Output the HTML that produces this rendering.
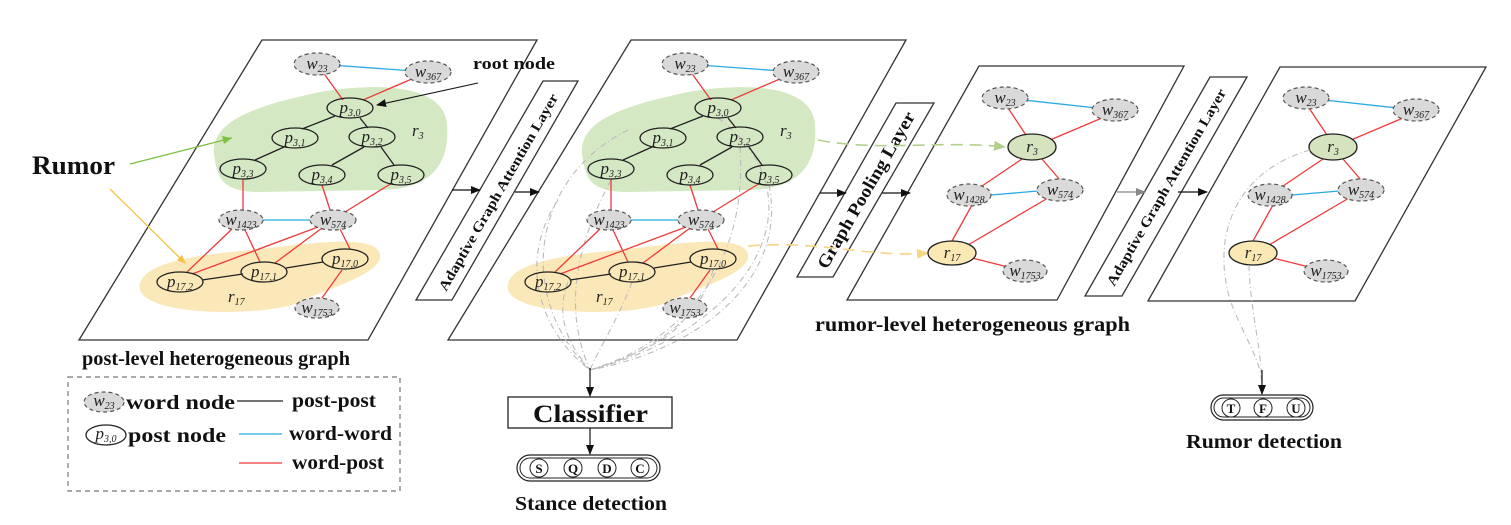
<!DOCTYPE html>
<html><head><meta charset="utf-8"><style>
html,body{margin:0;padding:0;background:#fff}
svg{display:block}
.t{font-family:"Liberation Serif",serif;font-style:italic;font-size:17px;fill:#222}
.s{font-size:10px}
.b{font-family:"Liberation Serif",serif;font-weight:bold;fill:#111}
.w{fill:#d9d9d9;stroke:#555;stroke-width:1.2;stroke-dasharray:4 3}
.p{fill:none;stroke:#222;stroke-width:1.3}
.r{stroke:#f03a3a;stroke-width:1.3}
.c{stroke:#2aaae2;stroke-width:1.3}
.k{stroke:#222;stroke-width:1.3}
.pl{fill:#fff;stroke:#333;stroke-width:1.3}
.g{fill:none;stroke:#bbb;stroke-width:1.1;stroke-dasharray:6 3 1 3}
</style></head><body>
<svg width="1511" height="525" viewBox="0 0 1511 525" xmlns="http://www.w3.org/2000/svg">
<defs>
<marker id="ah" markerWidth="10" markerHeight="8" refX="9" refY="4" orient="auto" markerUnits="userSpaceOnUse"><path d="M0,0 L10,4 L0,8 Z" fill="#111"/></marker>
<marker id="ag" markerWidth="12" markerHeight="10" refX="11" refY="5" orient="auto" markerUnits="userSpaceOnUse"><path d="M0,0 L12,5 L0,10 Z" fill="#b5d08c"/></marker>
<marker id="ay" markerWidth="12" markerHeight="10" refX="11" refY="5" orient="auto" markerUnits="userSpaceOnUse"><path d="M0,0 L12,5 L0,10 Z" fill="#f6d585"/></marker>
<marker id="agr" markerWidth="10" markerHeight="8" refX="9" refY="4" orient="auto" markerUnits="userSpaceOnUse"><path d="M0,0 L10,4 L0,8 Z" fill="#888"/></marker>
</defs>

<polygon class="pl" points="262,40 537,40 368,340 79,340"/>
<polygon class="pl" points="631,40 906,40 737,340 448,340"/>
<polygon class="pl" points="979,66 1184,66 1057,300 847,300"/>
<polygon class="pl" points="1280,67 1486,67 1355,301 1148,301"/>

<polygon class="pl" points="543,81 578,81 452,300 416,300"/>
<text class="b" font-size="14" transform="translate(498,192) rotate(-60)" text-anchor="middle" dy="5" textLength="225" lengthAdjust="spacingAndGlyphs">Adaptive Graph Attention Layer</text>
<polygon class="pl" points="896,103 934,103 833,277 797,277"/>
<text class="b" font-size="18" transform="translate(866,190) rotate(-60)" text-anchor="middle" dy="6" textLength="178" lengthAdjust="spacingAndGlyphs">Graph Pooling Layer</text>
<polygon class="pl" points="1210,77 1247,77 1122,296 1085,296"/>
<text class="b" font-size="14" transform="translate(1166,187) rotate(-60)" text-anchor="middle" dy="5" textLength="225" lengthAdjust="spacingAndGlyphs">Adaptive Graph Attention Layer</text>

<line x1="452" y1="190" x2="480" y2="190" stroke="#111" stroke-width="1.3" marker-end="url(#ah)"/>
<line x1="515" y1="192" x2="539" y2="192" stroke="#111" stroke-width="1.3" marker-end="url(#ah)"/>
<line x1="820" y1="193" x2="846" y2="193" stroke="#111" stroke-width="1.3" marker-end="url(#ah)"/>
<line x1="882" y1="193" x2="910" y2="193" stroke="#111" stroke-width="1.3" marker-end="url(#ah)"/>
<line x1="1117" y1="192" x2="1145" y2="192" stroke="#888" stroke-width="1.3" marker-end="url(#agr)"/>
<line x1="1178" y1="192" x2="1207" y2="192" stroke="#111" stroke-width="1.3" marker-end="url(#ah)"/>

<g>
<path d="M215,160 C205,120 260,105 320,92 C380,82 445,85 447,125 C450,165 430,190 380,190 L260,192 C225,192 218,180 215,160 Z" fill="#d5e8c4"/>
<path d="M140,290 C135,262 200,255 250,250 C300,245 378,232 380,255 C382,275 322,290 300,302 C270,316 150,318 140,290 Z" fill="#fbe8b8"/>
<line class="c" x1="317" y1="64" x2="428" y2="72"/>
<line class="r" x1="317" y1="64" x2="343" y2="100"/>
<line class="r" x1="428" y1="72" x2="363" y2="100"/>
<line class="k" x1="335" y1="116" x2="302" y2="129"/>
<line class="k" x1="360" y1="118" x2="368" y2="128"/>
<line class="k" x1="284" y1="147" x2="255" y2="160"/>
<line class="k" x1="364" y1="147" x2="332" y2="165"/>
<line class="k" x1="381" y1="147" x2="394" y2="165"/>
<line class="r" x1="243" y1="179" x2="243" y2="210"/>
<line class="r" x1="322" y1="185" x2="330" y2="210"/>
<line class="r" x1="392" y1="183" x2="345" y2="212"/>
<line class="c" x1="262" y1="220" x2="311" y2="220"/>
<line class="r" x1="232" y1="229" x2="187" y2="272"/>
<line class="r" x1="245" y1="230" x2="260" y2="262"/>
<line class="r" x1="318" y1="227" x2="192" y2="274"/>
<line class="r" x1="322" y1="228" x2="275" y2="263"/>
<line class="r" x1="340" y1="229" x2="350" y2="249"/>
<line class="k" x1="202" y1="280" x2="243" y2="274"/>
<line class="k" x1="286" y1="268" x2="323" y2="262"/>
<line class="r" x1="342" y1="270" x2="322" y2="298"/>
<ellipse class="w" cx="317" cy="64" rx="23" ry="11"/><text class="t" x="317" y="69" text-anchor="middle">w<tspan class="s" dy="3">23</tspan></text>
<ellipse class="w" cx="428" cy="72" rx="23" ry="11"/><text class="t" x="428" y="77" text-anchor="middle">w<tspan class="s" dy="3">367</tspan></text>
<ellipse class="p" cx="350" cy="108" rx="23" ry="10"/><text class="t" x="350" y="113" text-anchor="middle">p<tspan class="s" dy="3">3,0</tspan></text>
<ellipse class="p" cx="295" cy="138" rx="23" ry="10"/><text class="t" x="295" y="143" text-anchor="middle">p<tspan class="s" dy="3">3,1</tspan></text>
<ellipse class="p" cx="372" cy="137" rx="23" ry="10"/><text class="t" x="372" y="142" text-anchor="middle">p<tspan class="s" dy="3">3,2</tspan></text>
<ellipse class="p" cx="243" cy="169" rx="23" ry="10"/><text class="t" x="243" y="174" text-anchor="middle">p<tspan class="s" dy="3">3,3</tspan></text>
<ellipse class="p" cx="322" cy="175" rx="23" ry="10"/><text class="t" x="322" y="180" text-anchor="middle">p<tspan class="s" dy="3">3,4</tspan></text>
<ellipse class="p" cx="401" cy="175" rx="23" ry="10"/><text class="t" x="401" y="180" text-anchor="middle">p<tspan class="s" dy="3">3,5</tspan></text>
<ellipse class="w" cx="241" cy="220" rx="22" ry="10"/><text class="t" x="241" y="225" text-anchor="middle">w<tspan class="s" dy="3">1423</tspan></text>
<ellipse class="w" cx="333" cy="220" rx="23" ry="10"/><text class="t" x="333" y="225" text-anchor="middle">w<tspan class="s" dy="3">574</tspan></text>
<ellipse class="p" cx="345" cy="259" rx="23" ry="10"/><text class="t" x="345" y="264" text-anchor="middle">p<tspan class="s" dy="3">17,0</tspan></text>
<ellipse class="p" cx="264" cy="272" rx="23" ry="10"/><text class="t" x="264" y="277" text-anchor="middle">p<tspan class="s" dy="3">17,1</tspan></text>
<ellipse class="p" cx="180" cy="282" rx="23" ry="10"/><text class="t" x="180" y="287" text-anchor="middle">p<tspan class="s" dy="3">17,2</tspan></text>
<ellipse class="w" cx="317" cy="308" rx="22" ry="10"/><text class="t" x="317" y="313" text-anchor="middle">w<tspan class="s" dy="3">1753</tspan></text>
<text class="t" x="412" y="136">r<tspan class="s" dy="3">3</tspan></text>
<text class="t" x="228" y="302">r<tspan class="s" dy="3">17</tspan></text>
</g>

<g transform="translate(368,0)">
<path d="M215,160 C205,120 260,105 320,92 C380,82 445,85 447,125 C450,165 430,190 380,190 L260,192 C225,192 218,180 215,160 Z" fill="#d5e8c4"/>
<path d="M140,290 C135,262 200,255 250,250 C300,245 378,232 380,255 C382,275 322,290 300,302 C270,316 150,318 140,290 Z" fill="#fbe8b8"/>
<path class="g" d="M200,282 C185,320 205,350 222,370"/>
<path class="g" d="M190,200 C150,260 170,330 222,370"/>
<path class="g" d="M260,130 C160,180 150,300 222,370"/>
<path class="g" d="M264,282 C250,320 230,350 222,370"/>
<path class="g" d="M345,270 C330,330 260,360 222,370"/>
<path class="g" d="M372,147 C380,260 320,340 222,370"/>
<path class="g" d="M401,185 C420,280 330,350 222,370"/>
<path class="g" d="M350,118 C460,200 380,330 222,370"/>
<path class="g" d="M243,180 C200,260 200,320 222,370"/>
<path class="g" d="M317,318 C300,345 250,360 222,370"/>
<line class="c" x1="317" y1="64" x2="428" y2="72"/>
<line class="r" x1="317" y1="64" x2="343" y2="100"/>
<line class="r" x1="428" y1="72" x2="363" y2="100"/>
<line class="k" x1="335" y1="116" x2="302" y2="129"/>
<line class="k" x1="360" y1="118" x2="368" y2="128"/>
<line class="k" x1="284" y1="147" x2="255" y2="160"/>
<line class="k" x1="364" y1="147" x2="332" y2="165"/>
<line class="k" x1="381" y1="147" x2="394" y2="165"/>
<line class="r" x1="243" y1="179" x2="243" y2="210"/>
<line class="r" x1="322" y1="185" x2="330" y2="210"/>
<line class="r" x1="392" y1="183" x2="345" y2="212"/>
<line class="c" x1="262" y1="220" x2="311" y2="220"/>
<line class="r" x1="232" y1="229" x2="187" y2="272"/>
<line class="r" x1="245" y1="230" x2="260" y2="262"/>
<line class="r" x1="318" y1="227" x2="192" y2="274"/>
<line class="r" x1="322" y1="228" x2="275" y2="263"/>
<line class="r" x1="340" y1="229" x2="350" y2="249"/>
<line class="k" x1="202" y1="280" x2="243" y2="274"/>
<line class="k" x1="286" y1="268" x2="323" y2="262"/>
<line class="r" x1="342" y1="270" x2="322" y2="298"/>
<ellipse class="w" cx="317" cy="64" rx="23" ry="11"/><text class="t" x="317" y="69" text-anchor="middle">w<tspan class="s" dy="3">23</tspan></text>
<ellipse class="w" cx="428" cy="72" rx="23" ry="11"/><text class="t" x="428" y="77" text-anchor="middle">w<tspan class="s" dy="3">367</tspan></text>
<ellipse class="p" cx="350" cy="108" rx="23" ry="10"/><text class="t" x="350" y="113" text-anchor="middle">p<tspan class="s" dy="3">3,0</tspan></text>
<ellipse class="p" cx="295" cy="138" rx="23" ry="10"/><text class="t" x="295" y="143" text-anchor="middle">p<tspan class="s" dy="3">3,1</tspan></text>
<ellipse class="p" cx="372" cy="137" rx="23" ry="10"/><text class="t" x="372" y="142" text-anchor="middle">p<tspan class="s" dy="3">3,2</tspan></text>
<ellipse class="p" cx="243" cy="169" rx="23" ry="10"/><text class="t" x="243" y="174" text-anchor="middle">p<tspan class="s" dy="3">3,3</tspan></text>
<ellipse class="p" cx="322" cy="175" rx="23" ry="10"/><text class="t" x="322" y="180" text-anchor="middle">p<tspan class="s" dy="3">3,4</tspan></text>
<ellipse class="p" cx="401" cy="175" rx="23" ry="10"/><text class="t" x="401" y="180" text-anchor="middle">p<tspan class="s" dy="3">3,5</tspan></text>
<ellipse class="w" cx="241" cy="220" rx="22" ry="10"/><text class="t" x="241" y="225" text-anchor="middle">w<tspan class="s" dy="3">1423</tspan></text>
<ellipse class="w" cx="333" cy="220" rx="23" ry="10"/><text class="t" x="333" y="225" text-anchor="middle">w<tspan class="s" dy="3">574</tspan></text>
<ellipse class="p" cx="345" cy="259" rx="23" ry="10"/><text class="t" x="345" y="264" text-anchor="middle">p<tspan class="s" dy="3">17,0</tspan></text>
<ellipse class="p" cx="264" cy="272" rx="23" ry="10"/><text class="t" x="264" y="277" text-anchor="middle">p<tspan class="s" dy="3">17,1</tspan></text>
<ellipse class="p" cx="180" cy="282" rx="23" ry="10"/><text class="t" x="180" y="287" text-anchor="middle">p<tspan class="s" dy="3">17,2</tspan></text>
<ellipse class="w" cx="317" cy="308" rx="22" ry="10"/><text class="t" x="317" y="313" text-anchor="middle">w<tspan class="s" dy="3">1753</tspan></text>
<text class="t" x="412" y="136">r<tspan class="s" dy="3">3</tspan></text>
<text class="t" x="228" y="302">r<tspan class="s" dy="3">17</tspan></text>
</g>

<path d="M818,140 C880,152 940,140 1005,147" fill="none" stroke="#b5d08c" stroke-width="1.6" stroke-dasharray="12 7" marker-end="url(#ag)"/>
<path d="M748,246 C820,240 870,258 928,253" fill="none" stroke="#f6d585" stroke-width="1.6" stroke-dasharray="12 7" marker-end="url(#ay)"/>

<g>
<line class="c" x1="1005" y1="98" x2="1115" y2="110"/>
<line class="r" x1="1008" y1="108" x2="1026" y2="135"/>
<line class="r" x1="1102" y1="118" x2="1050" y2="140"/>
<line class="r" x1="1022" y1="159" x2="982" y2="186"/>
<line class="r" x1="1042" y1="159" x2="1060" y2="180"/>
<line class="c" x1="991" y1="195" x2="1038" y2="191"/>
<line class="r" x1="972" y1="205" x2="952" y2="241"/>
<line class="r" x1="1048" y1="198" x2="968" y2="245"/>
<line class="r" x1="972" y1="258" x2="1008" y2="267"/>
<ellipse class="w" cx="1005" cy="98" rx="23" ry="11"/><text class="t" x="1005" y="103" text-anchor="middle">w<tspan class="s" dy="3">23</tspan></text>
<ellipse class="w" cx="1115" cy="110" rx="23" ry="11"/><text class="t" x="1115" y="115" text-anchor="middle">w<tspan class="s" dy="3">367</tspan></text>
<ellipse cx="1032" cy="147" rx="24" ry="13" fill="#d5e3bf" stroke="#222" stroke-width="1.3"/><text class="t" x="1032" y="152" text-anchor="middle">r<tspan class="s" dy="3">3</tspan></text>
<ellipse class="w" cx="969" cy="195" rx="22" ry="11"/><text class="t" x="969" y="200" text-anchor="middle">w<tspan class="s" dy="3">1428</tspan></text>
<ellipse class="w" cx="1060" cy="190" rx="23" ry="11"/><text class="t" x="1060" y="195" text-anchor="middle">w<tspan class="s" dy="3">574</tspan></text>
<ellipse cx="952" cy="253" rx="24" ry="12" fill="#fbe9b5" stroke="#222" stroke-width="1.3"/><text class="t" x="952" y="258" text-anchor="middle">r<tspan class="s" dy="3">17</tspan></text>
<ellipse class="w" cx="1025" cy="271" rx="22" ry="11"/><text class="t" x="1025" y="276" text-anchor="middle">w<tspan class="s" dy="3">1753</tspan></text>
</g>

<g transform="translate(301,0)">
<line class="c" x1="1005" y1="98" x2="1115" y2="110"/>
<line class="r" x1="1008" y1="108" x2="1026" y2="135"/>
<line class="r" x1="1102" y1="118" x2="1050" y2="140"/>
<line class="r" x1="1022" y1="159" x2="982" y2="186"/>
<line class="r" x1="1042" y1="159" x2="1060" y2="180"/>
<line class="c" x1="991" y1="195" x2="1038" y2="191"/>
<line class="r" x1="972" y1="205" x2="952" y2="241"/>
<line class="r" x1="1048" y1="198" x2="968" y2="245"/>
<line class="r" x1="972" y1="258" x2="1008" y2="267"/>
<ellipse class="w" cx="1005" cy="98" rx="23" ry="11"/><text class="t" x="1005" y="103" text-anchor="middle">w<tspan class="s" dy="3">23</tspan></text>
<ellipse class="w" cx="1115" cy="110" rx="23" ry="11"/><text class="t" x="1115" y="115" text-anchor="middle">w<tspan class="s" dy="3">367</tspan></text>
<ellipse cx="1032" cy="147" rx="24" ry="13" fill="#d5e3bf" stroke="#222" stroke-width="1.3"/><text class="t" x="1032" y="152" text-anchor="middle">r<tspan class="s" dy="3">3</tspan></text>
<ellipse class="w" cx="969" cy="195" rx="22" ry="11"/><text class="t" x="969" y="200" text-anchor="middle">w<tspan class="s" dy="3">1428</tspan></text>
<ellipse class="w" cx="1060" cy="190" rx="23" ry="11"/><text class="t" x="1060" y="195" text-anchor="middle">w<tspan class="s" dy="3">574</tspan></text>
<ellipse cx="952" cy="253" rx="24" ry="12" fill="#fbe9b5" stroke="#222" stroke-width="1.3"/><text class="t" x="952" y="258" text-anchor="middle">r<tspan class="s" dy="3">17</tspan></text>
<ellipse class="w" cx="1025" cy="271" rx="22" ry="11"/><text class="t" x="1025" y="276" text-anchor="middle">w<tspan class="s" dy="3">1753</tspan></text>
</g>
<path class="g" d="M1310,150 C1240,170 1210,230 1230,300 C1245,340 1262,360 1262,388"/>
<path class="g" d="M1249,265 C1250,310 1262,350 1262,388"/>
<line x1="1262" y1="370" x2="1262" y2="394" stroke="#111" stroke-width="1.2" marker-end="url(#ah)"/>

<rect x="1211" y="395" width="102" height="25" rx="12.5" fill="#fff" stroke="#222" stroke-width="1.2"/>
<rect x="1214" y="398" width="96" height="19" rx="9.5" fill="none" stroke="#222" stroke-width="1"/>
<circle cx="1231" cy="408" r="9" fill="none" stroke="#222"/><text class="b" x="1231" y="413" font-size="13" text-anchor="middle">T</text>
<circle cx="1263" cy="408" r="9" fill="none" stroke="#222"/><text class="b" x="1263" y="413" font-size="13" text-anchor="middle">F</text>
<circle cx="1296" cy="408" r="9" fill="none" stroke="#222"/><text class="b" x="1296" y="413" font-size="13" text-anchor="middle">U</text>
<text class="b" x="1186" y="448" font-size="20" textLength="156" lengthAdjust="spacingAndGlyphs">Rumor detection</text>

<line x1="590" y1="368" x2="590" y2="396" stroke="#111" stroke-width="1.2" marker-end="url(#ah)"/>
<rect x="508" y="397" width="164" height="31" fill="#fff" stroke="#222" stroke-width="1.3"/>
<text class="b" x="533" y="422" font-size="25" textLength="115" lengthAdjust="spacingAndGlyphs">Classifier</text>
<line x1="590" y1="428" x2="590" y2="454" stroke="#111" stroke-width="1.2" marker-end="url(#ah)"/>
<rect x="517" y="455" width="143" height="26" rx="13" fill="#fff" stroke="#222" stroke-width="1.2"/>
<rect x="520" y="458" width="137" height="20" rx="10" fill="none" stroke="#222" stroke-width="1"/>
<circle cx="539" cy="468" r="9" fill="none" stroke="#222"/><text class="b" x="539" y="473" font-size="13" text-anchor="middle">S</text>
<circle cx="573" cy="468" r="9" fill="none" stroke="#222"/><text class="b" x="573" y="473" font-size="13" text-anchor="middle">Q</text>
<circle cx="607" cy="468" r="9" fill="none" stroke="#222"/><text class="b" x="607" y="473" font-size="13" text-anchor="middle">D</text>
<circle cx="640" cy="468" r="9" fill="none" stroke="#222"/><text class="b" x="640" y="473" font-size="13" text-anchor="middle">C</text>
<text class="b" x="515" y="510" font-size="20" textLength="152" lengthAdjust="spacingAndGlyphs">Stance detection</text>

<text class="b" x="32" y="174" font-size="26" textLength="83" lengthAdjust="spacingAndGlyphs">Rumor</text>
<line x1="130" y1="164" x2="232" y2="138" stroke="#7cc142" stroke-width="1.3"/>
<path d="M232,138 L222,136 L224,144 Z" fill="#7cc142"/>
<line x1="110" y1="189" x2="184" y2="262" stroke="#f5c242" stroke-width="1.3"/>
<path d="M186,264 L177,260 L182,255 Z" fill="#f5c242"/>
<text class="b" x="473" y="69" font-size="17" textLength="82" lengthAdjust="spacingAndGlyphs">root node</text>
<line x1="478" y1="83" x2="377" y2="105" stroke="#111" stroke-width="1.1" marker-end="url(#ah)"/>

<text class="b" x="82" y="365" font-size="20" textLength="268" lengthAdjust="spacingAndGlyphs">post-level heterogeneous graph</text>
<text class="b" x="815" y="331" font-size="21" textLength="315" lengthAdjust="spacingAndGlyphs">rumor-level heterogeneous graph</text>

<rect x="68" y="377" width="332" height="114" fill="none" stroke="#777" stroke-width="1.2" stroke-dasharray="5 4"/>
<ellipse class="w" cx="104" cy="402" rx="20" ry="10"/><text class="t" x="104" y="406" text-anchor="middle" font-size="14">w<tspan class="s" dy="3">23</tspan></text>
<text class="b" x="126" y="409" font-size="20" textLength="109" lengthAdjust="spacingAndGlyphs">word node</text>
<line x1="237" y1="401" x2="283" y2="401" class="k"/>
<text class="b" x="292" y="407" font-size="20" textLength="84" lengthAdjust="spacingAndGlyphs">post-post</text>
<ellipse class="p" cx="106" cy="435" rx="20" ry="10"/><text class="t" x="106" y="439" text-anchor="middle" font-size="14">p<tspan class="s" dy="3">3,0</tspan></text>
<text class="b" x="128" y="442" font-size="20" textLength="98" lengthAdjust="spacingAndGlyphs">post node</text>
<line x1="239" y1="434" x2="282" y2="434" class="c"/>
<text class="b" x="289" y="440" font-size="20" textLength="103" lengthAdjust="spacingAndGlyphs">word-word</text>
<line x1="239" y1="463" x2="282" y2="463" class="r"/>
<text class="b" x="292" y="469" font-size="20" textLength="92" lengthAdjust="spacingAndGlyphs">word-post</text>
</svg>
</body></html>
